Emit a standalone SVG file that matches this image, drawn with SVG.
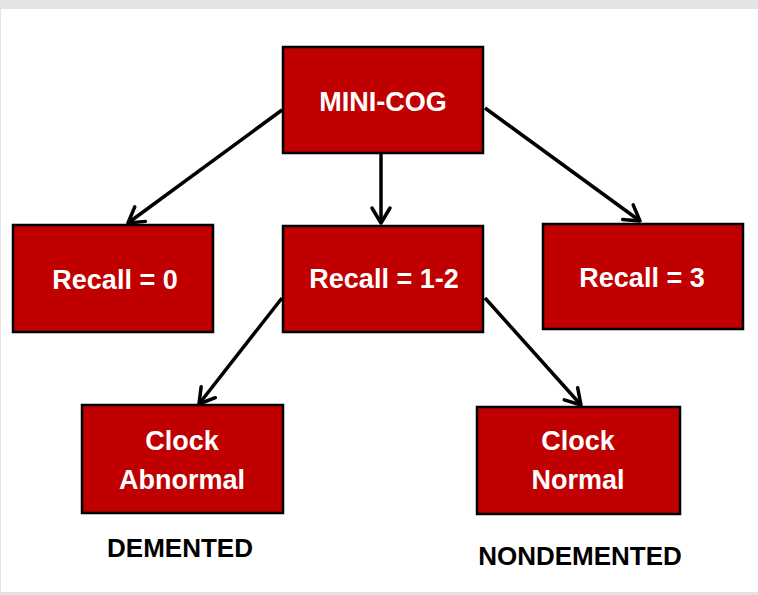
<svg xmlns="http://www.w3.org/2000/svg" width="758" height="595" viewBox="0 0 758 595">
<defs>
<style>
.box{fill:#C00000;stroke:#000;stroke-width:2.5}
.t{font-family:"Liberation Sans",Arial,sans-serif;font-weight:bold;font-size:27px;fill:#fff;text-anchor:middle}
.lbl{font-family:"Liberation Sans",Arial,sans-serif;font-weight:bold;font-size:26px;fill:#000;text-anchor:middle}
.c{stroke:#000;stroke-width:3.5;fill:none}
</style>
<marker id="arr" markerUnits="userSpaceOnUse" markerWidth="30" markerHeight="30" viewBox="-20 -15 30 30" refX="0" refY="0" orient="auto">
<path d="M-15,-9 L0,0 L-15,9" fill="none" stroke="#000" stroke-width="3.5" stroke-linecap="round" stroke-linejoin="round"/>
</marker>
</defs>
<rect x="0" y="0" width="758" height="595" fill="#fff"/>
<rect x="0" y="0" width="758" height="9" fill="#e4e4e4"/>
<rect x="0" y="592" width="758" height="3" fill="#e4e4e4"/>
<rect x="0" y="9" width="1" height="583" fill="#e4e4e4"/>
<g id="connectors">
<line class="c" x1="282" y1="110" x2="128" y2="223" marker-end="url(#arr)"/>
<line class="c" x1="381" y1="153" x2="381" y2="223" marker-end="url(#arr)"/>
<line class="c" x1="485" y1="108" x2="640" y2="221" marker-end="url(#arr)"/>
<line class="c" x1="282" y1="298" x2="199" y2="404" marker-end="url(#arr)"/>
<line class="c" x1="485" y1="298" x2="581" y2="405" marker-end="url(#arr)"/>
</g>
<g id="minicog"><rect class="box" x="283" y="47" width="200" height="106"/><text class="t" x="383" y="111">MINI-COG</text></g>
<g id="recall0"><rect class="box" x="13" y="225" width="200" height="107"/><text class="t" x="115" y="289">Recall = 0</text></g>
<g id="recall12"><rect class="box" x="283" y="226" width="200" height="106"/><text class="t" x="384" y="288">Recall = 1-2</text></g>
<g id="recall3"><rect class="box" x="543" y="224" width="200" height="105"/><text class="t" x="642" y="287">Recall = 3</text></g>
<g id="clockAbnormal"><rect class="box" x="82" y="405" width="201" height="108"/><text class="t" x="182" y="450">Clock</text><text class="t" x="182" y="489">Abnormal</text></g>
<g id="clockNormal"><rect class="box" x="477" y="407" width="203" height="107"/><text class="t" x="578" y="450">Clock</text><text class="t" x="578" y="489">Normal</text></g>
<g id="demented"><text class="lbl" x="180" y="557">DEMENTED</text></g>
<g id="nondemented"><text class="lbl" x="580" y="565">NONDEMENTED</text></g>
</svg>
